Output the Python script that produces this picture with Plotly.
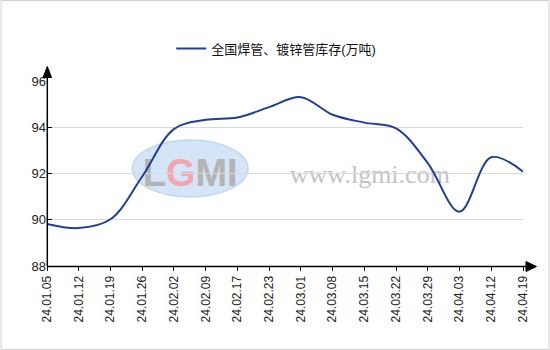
import plotly.graph_objects as go

dates = ["24.01.05", "24.01.12", "24.01.19", "24.01.26", "24.02.02", "24.02.09",
         "24.02.17", "24.02.23", "24.03.01", "24.03.08", "24.03.15", "24.03.22",
         "24.03.29", "24.04.03", "24.04.12", "24.04.19"]
inventory = [89.82, 89.64, 90.02, 91.87, 93.92, 94.32, 94.42, 94.87, 95.30,
             94.54, 94.20, 93.95, 92.45, 90.35, 92.70, 92.08]
series_name = "全国焊管、镀锌管库存(万吨)"
y_ticks = [88, 90, 92, 94, 96]

FONT = "Liberation Sans, Arial, Noto Sans CJK SC, sans-serif"

# pixel geometry helpers (plot area)
L, R, T, B = 46.5, 523.5, 81, 266
W, H = R - L, B - T
def px(x):
    return (x - L) / W
def py(y):
    return (B - y) / H

fig = go.Figure()
fig.add_trace(go.Scatter(
    x=dates, y=inventory, mode="lines", name=series_name,
    line=dict(color="#1f3e96", width=2, shape="spline", smoothing=1.0),
    hoverinfo="x+y",
))

shapes = [
    # watermark ellipse (logo)
    dict(type="circle", xref="paper", yref="paper", layer="between",
         x0=px(132), x1=px(248), y0=py(197), y1=py(140),
         fillcolor="rgba(200,222,245,0.8)", line=dict(color="rgba(185,210,238,0.8)", width=1.5),
         label=dict(text="<b>L<span style='color:#f4a6ae'>G</span>MI</b>",
                    font=dict(family="Liberation Sans", size=38, color="#b4b4b4"),
                    textposition="middle center")),
    # watermark text
    dict(type="rect", xref="paper", yref="paper", layer="between",
         x0=px(282), x1=px(458), y0=py(188), y1=py(154),
         fillcolor="rgba(0,0,0,0)", line=dict(width=0),
         label=dict(text="www.lgmi.com",
                    font=dict(family="Liberation Serif", size=26, color="#c4c4c4"),
                    textposition="middle center")),
    # y axis line with arrow
    dict(type="line", xref="paper", yref="paper", x0=px(46.8), x1=px(46.8),
         y0=py(266), y1=py(77), line=dict(color="black", width=1.5)),
    dict(type="path", xref="paper", yref="paper",
         path=f"M {px(42.5)} {py(77.5)} L {px(46.8)} {py(66.5)} L {px(51)} {py(77.5)} Z",
         fillcolor="black", line=dict(color="black", width=1)),
    # x axis line with arrow
    dict(type="line", xref="paper", yref="paper", x0=px(46.5), x1=px(527),
         y0=py(266.5), y1=py(266.5), line=dict(color="black", width=1.5)),
    dict(type="path", xref="paper", yref="paper",
         path=f"M {px(526.5)} {py(261.5)} L {px(537)} {py(266.5)} L {px(526.5)} {py(271.5)} Z",
         fillcolor="black", line=dict(color="black", width=1)),
    # outer border
    dict(type="rect", xref="paper", yref="paper", x0=px(0.5), x1=px(549.5),
         y0=py(349.5), y1=py(0.5), line=dict(color="#d0d0d0", width=1)),
]

fig.update_layout(
    width=550, height=350,
    margin=dict(l=L, r=550 - R, t=T, b=350 - B, pad=0),
    paper_bgcolor="white", plot_bgcolor="white",
    font=dict(family=FONT, size=12, color="#222222"),
    showlegend=True,
    legend=dict(orientation="h", x=px(171), y=py(48.5), xanchor="left", yanchor="middle",
                font=dict(size=13, color="#111111"), itemwidth=30,
                bgcolor="rgba(0,0,0,0)"),
    xaxis=dict(type="category", range=[0, len(dates) - 1], showgrid=False,
               showline=False, zeroline=False, tickangle=-90,
               ticks="outside", ticklen=4, tickcolor="black", tickwidth=1,
               tickfont=dict(size=12, color="#222222")),
    yaxis=dict(range=[88, 96], tickvals=y_ticks, showgrid=True, gridcolor="#d9d9d9",
               gridwidth=1, zeroline=False, showline=False,
               ticks="inside", ticklen=5, tickcolor="black", tickwidth=1,
               tickfont=dict(size=13, color="#222222")),
    shapes=shapes,
)

fig.write_html("out.html")
